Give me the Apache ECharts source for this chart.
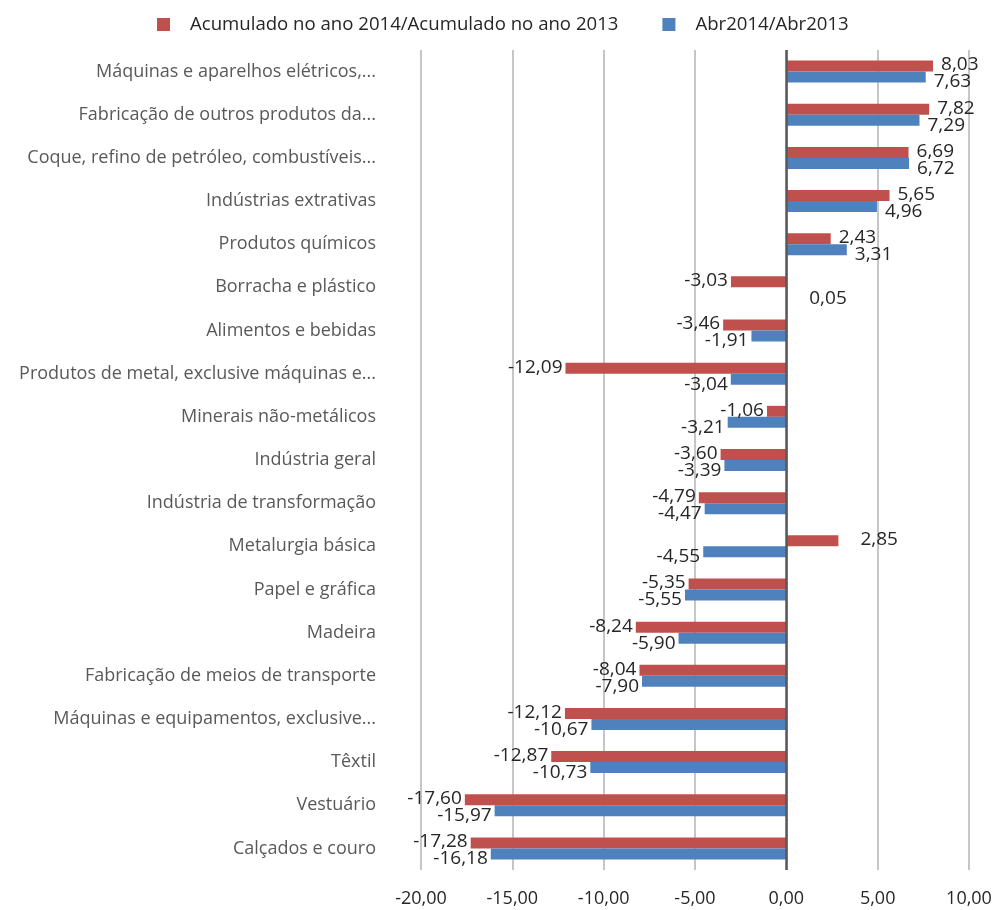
<!DOCTYPE html>
<html><head><meta charset="utf-8">
<script src="https://cdn.jsdelivr.net/npm/echarts@6/dist/echarts.min.js"></script>
<style>html,body{margin:0;padding:0;background:#fff}#c{width:992px;height:910px}</style>
</head><body><div id="c"></div>
<script>
const categories = [
  "Máquinas e aparelhos elétricos,...",
  "Fabricação de outros produtos da...",
  "Coque, refino de petróleo, combustíveis...",
  "Indústrias extrativas",
  "Produtos químicos",
  "Borracha e plástico",
  "Alimentos e bebidas",
  "Produtos de metal, exclusive máquinas e...",
  "Minerais não-metálicos",
  "Indústria geral",
  "Indústria de transformação",
  "Metalurgia básica",
  "Papel e gráfica",
  "Madeira",
  "Fabricação de meios de transporte",
  "Máquinas e equipamentos, exclusive...",
  "Têxtil",
  "Vestuário",
  "Calçados e couro"
];
const acumulado = [8.03, 7.82, 6.69, 5.65, 2.43, -3.03, -3.46, -12.09, -1.06, -3.60, -4.79, 2.85, -5.35, -8.24, -8.04, -12.12, -12.87, -17.60, -17.28];
const abril = [7.63, 7.29, 6.72, 4.96, 3.31, 0.05, -1.91, -3.04, -3.21, -3.39, -4.47, -4.55, -5.55, -5.90, -7.90, -10.67, -10.73, -15.97, -16.18];
const seriesNames = ["Acumulado no ano 2014/Acumulado no ano 2013", "Abr2014/Abr2013"];
const xTicks = { min: -20, max: 10, interval: 5 };

const fmt = v => v.toFixed(2).replace('.', ',');
const FONT = "Open Sans";
function mk(vals, dy, extra) {
  return vals.map((v, i) => {
    const lab = {
      show: true,
      position: v >= 0 ? 'right' : 'left',
      distance: v >= 0 ? 8 : 3,
      offset: [0, dy]
    };
    if (extra[i]) Object.assign(lab, extra[i]);
    return { value: v, label: lab };
  });
}
const chart = echarts.init(document.getElementById('c'), null, { renderer: 'canvas' });
chart.setOption({
  animation: false,
  textStyle: { fontFamily: FONT },
  legend: {
    top: 10, left: 152, itemWidth: 13, itemHeight: 13, itemGap: 44,
    icon: 'rect',
    textStyle: { fontSize: 18.6, color: '#262626', fontFamily: FONT, padding: [0, 0, 0, 15] },
    data: seriesNames
  },
  grid: { left: 421, right: 23, top: 50, bottom: 40, containLabel: false, outerBoundsMode: 'none' },
  xAxis: {
    type: 'value', min: xTicks.min, max: xTicks.max, interval: xTicks.interval,
    axisLine: { show: false }, axisTick: { show: false },
    axisLabel: { formatter: fmt, fontSize: 18, color: '#262626', margin: 20, fontFamily: FONT },
    splitLine: { lineStyle: { color: '#c6c6c6', width: 2 } }
  },
  yAxis: {
    type: 'category', data: categories, inverse: true,
    axisLine: { show: false },
    axisTick: { show: false },
    axisLabel: { fontSize: 18, color: '#595959', margin: 45, fontFamily: FONT }
  },
  series: [
    {
      name: seriesNames[0], type: 'bar', barWidth: 11, barGap: '0%',
      itemStyle: { color: '#c0504d' },
      label: { formatter: p => fmt(p.value), fontSize: 19, color: '#262626', fontFamily: FONT },
      data: mk(acumulado, -1, { 11: { distance: 22 } }),
      markLine: {
        silent: true, symbol: 'none', label: { show: false },
        lineStyle: { color: '#595959', width: 2.5, type: 'solid' },
        data: [{ xAxis: 0 }]
      }
    },
    {
      name: seriesNames[1], type: 'bar', barWidth: 11, barGap: '0%',
      itemStyle: { color: '#4f81bd' },
      label: { formatter: p => fmt(p.value), fontSize: 19, color: '#262626', fontFamily: FONT },
      data: mk(abril, 5, { 5: { distance: 22, offset: [0, 6] } })
    }
  ]
});
</script></body></html>
